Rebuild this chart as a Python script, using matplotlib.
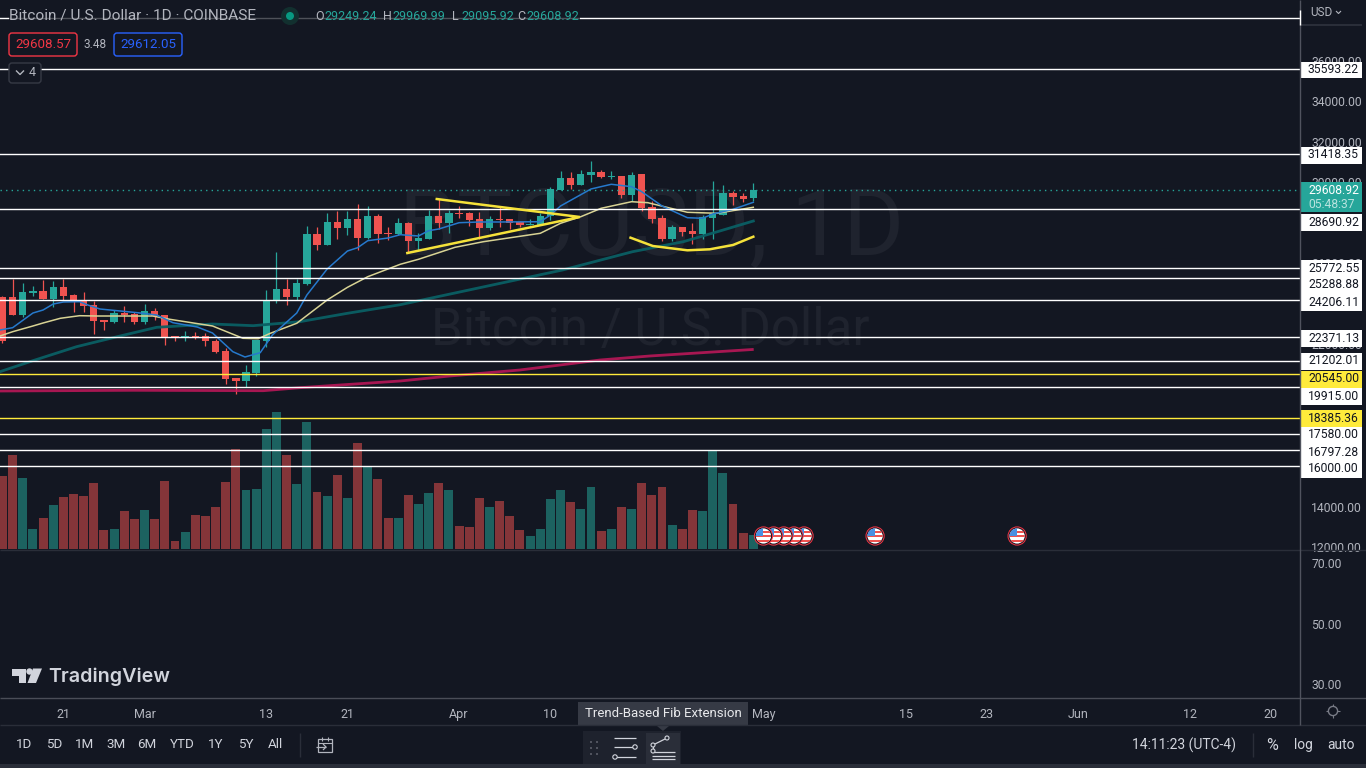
""" BTC/USD daily chart, dark terminal look """

import matplotlib
matplotlib.use('Agg')
import matplotlib.pyplot as plt
from matplotlib.patches import Circle, Polygon, Rectangle, FancyBboxPatch

plt.rcParams['font.family'] = ['Roboto', 'DejaVu Sans']

# candles (first bar is Feb 15)

opens = [24342, 24342, 23453, 24539, 24638, 24243, 24835, 24441, 24194, 23947,
         23207, 23108, 23552, 23503, 23108, 23651, 23453, 22417, 22367, 22417,
         22417, 22170, 21676, 20344, 20196, 20590, 22170, 24194, 24737, 24342,
         24984, 27452, 26909, 28044, 27748, 28192, 27254, 28340, 27501, 27452,
         27994, 27106, 27205, 28340, 27994, 28503, 28488, 28192, 27748, 28192,
         28192, 28044, 27911, 27896, 28340, 29623, 30216, 29870, 30364, 30512,
         30265, 30314, 29377, 30413, 28784, 28241, 27205, 27797, 27600, 27452,
         28241, 28389, 29475, 29327, 29249.24]
highs = [24391, 25230, 25033, 24885, 25181, 25132, 25230, 24490, 24589, 24144,
         23207, 23700, 23898, 23601, 23996, 23799, 23453, 22417, 22664, 22614,
         22565, 22269, 21824, 20344, 20985, 22219, 24687, 26563, 25230, 25230,
         27847, 27797, 28488, 28587, 28587, 28933, 28834, 28439, 27797, 28241,
         28044, 27501, 28636, 29179, 28636, 28834, 28537, 28537, 28340, 28784,
         28192, 28093, 28192, 28488, 29771, 30561, 30512, 30611, 31055, 30611,
         30561, 30314, 30512, 30413, 29080, 28389, 27896, 27797, 27994, 28389,
         30068, 29870, 29574, 29475, 29969.99]
lows = [22072, 23453, 23355, 24391, 24243, 23848, 24194, 23601, 23601, 22516,
        22713, 23058, 23108, 23009, 23009, 23207, 21973, 22170, 22170, 22269,
        21923, 21578, 20048, 19554, 19899, 20442, 21874, 24046, 23947, 24194,
        24934, 26662, 26909, 27205, 27402, 26662, 27205, 27007, 27155, 27402,
        26563, 26662, 27205, 27698, 27501, 28241, 27846, 27205, 27649, 27797,
        27698, 27797, 27896, 27896, 28143, 29623, 29673, 29870, 30018, 30216,
        30166, 29228, 29080, 28587, 27994, 27106, 27106, 27353, 26958, 27205,
        27205, 28389, 28883, 29031, 29095.92]
closes = [22170, 23453, 24589, 24638, 24243, 24835, 24391, 24194, 23898, 23157,
          23108, 23552, 23453, 23108, 23651, 23404, 22367, 22367, 22417, 22367,
          22170, 21627, 20294, 20196, 20640, 22219, 24144, 24737, 24342, 25033,
          27452, 26909, 28044, 27748, 28192, 27254, 28340, 27452, 27452, 27994,
          27106, 27254, 28340, 27994, 28488, 28454, 28143, 27748, 28192, 28143,
          27994, 27896, 27960, 28340, 29673, 30216, 29870, 30413, 30512, 30265,
          30314, 29377, 30364, 28735, 28192, 27205, 27797, 27550, 27452, 28291,
          28439, 29475, 29278, 29179, 29608.92]

# volume, relative units

volumes = [73, 94, 71, 20, 31, 44, 52, 55, 53, 66, 19, 20, 38, 30, 39, 30, 68, 8,
           17, 34, 33, 42, 67, 100, 59, 60, 120, 137, 94, 65, 127, 57, 53, 74, 51,
           106, 83, 70, 31, 31, 54, 45, 56, 66, 59, 23, 22, 51, 42, 48, 33, 19, 13,
           20, 50, 59, 47, 40, 62, 18, 20, 42, 40, 66, 54, 62, 24, 20, 39, 38, 99,
           76, 45, 16, 14]

# moving averages, read at the bends of each curve

fast_days = [-0.25, 1, 3, 4, 5, 6, 7.6, 8.4, 9.6, 11.3, 13.3, 15.2, 16.8, 19.2, 20.7,
             22.7, 23.9, 25.4, 26.6, 29, 30, 32, 34, 35, 36, 38, 39.2, 41, 42, 43, 45,
             47, 49, 53, 54, 55, 58, 60, 62, 63, 65, 67.5, 69, 70, 72, 74]
fast_ema = [22713, 22827, 23552, 23700, 23996, 24095, 24110, 23947, 23750, 23666,
            23567, 23453, 23073, 22861, 22565, 21642, 21380, 21593, 22466, 23552,
            24441, 25724, 26613, 26775, 27121, 27254, 27417, 27353, 27615, 27698,
            28009, 28044, 28044, 28059, 28389, 28834, 29673, 29905, 29787, 29540,
            28834, 28256, 28227, 28439, 28670, 29016]
mid_days = [-0.25, 1, 3, 4, 5.7, 7.6, 9.3, 14.8, 16.5, 20.7, 23.7, 25.2, 26.4, 29, 32,
            34, 36, 39.2, 41, 44.6, 47.4, 53, 55, 57, 59, 62, 63.6, 67.5, 70.4, 74]
mid_ema = [22417, 22629, 22911, 23059, 23291, 23419, 23404, 23404, 23241, 22911,
           22304, 22284, 22550, 23044, 24194, 24820, 25344, 25956, 26203, 26795,
           27072, 27486, 27980, 28306, 28720, 29046, 28997, 28523, 28474, 28770]
slow_days = [-0.25, 3, 7.3, 11.3, 15.2, 20.7, 24.7, 29.3, 34, 39.2, 55.2, 62.1, 67.1, 70.7, 74]
slow_ema = [20655, 21198, 21889, 22382, 22846, 23009, 22926, 23123, 23537, 23962,
            25675, 26578, 27072, 27600, 28093]
long_days = [-0.25, 12.9, 25.7, 29.3, 39.2, 44.1, 51, 58.9, 63.8, 73.9]
long_sma = [19702, 19737, 19717, 19865, 20196, 20443, 20739, 21232, 21430, 21750]

# hand drawn pattern

triangle_days = [42.8, 56.9, 39.9]
triangle_prices = [29179, 28291, 26513]
cup_days = [61.9, 64.1, 67.5, 69.7, 72, 74]
cup_prices = [27269, 26859, 26647, 26696, 26909, 27318]

# horizontal levels and where their tags sit on the scale (tags get pushed apart)

white_levels = [35593.22, 31418.35, 28690.92, 25772.55, 25288.88, 24206.11,
                22371.13, 21202.01, 19915.00, 17580.00, 16797.28, 16000.00]
white_tag_rows = [69.5, 155, 222, 268, 285, 302, 338, 361, 396, 435, 452, 469]
yellow_levels = [20545.00, 18385.36]
yellow_tag_rows = [379, 418]
top_level = 38113
last_close = closes[-1]

# axes ticks, only those the tags leave in sight

price_ticks = [12000, 14000, 22000, 26000, 30000, 32000, 34000, 36000]
rsi_ticks = [30, 50, 70]
date_ticks = [6, 14, 26, 34, 45, 54, 75, 89, 97, 106, 117, 125]
date_labels = ['21', 'Mar', '13', '21', 'Apr', '10', 'May', '15', '23', 'Jun', '12', '20']
event_days = [75, 76, 77, 78, 79, 86, 100]

# toolbar

range_labels = ['1D', '5D', '1M', '3M', '6M', 'YTD', '1Y', '5Y', 'All']
range_x = [24, 54, 85, 116, 147, 182, 216, 246, 275]

# colours

BG = '#131722'
UP = '#26a69a'
DOWN = '#ef5350'
UP_VOL = '#1c6260'
DOWN_VOL = '#843539'
TEXT = '#b2b5be'
GRID = '#2a2e39'
YELLOW = '#ffeb3b'

W, H = 1366, 768
PANE_R = 1300
VOL_B = 549
RSI_B = 697

fig = plt.figure(figsize=(W / 100, H / 100), dpi=100, facecolor=BG)


def pane(top, bottom, zorder):
    a = fig.add_axes([0, 1 - bottom / H, PANE_R / W, (bottom - top) / H], zorder=zorder)
    a.set_facecolor('none')
    for s in a.spines.values():
        s.set_visible(False)
    a.set_xlim(-0.246, 127.88)
    return a


# volume pane, behind the price pane

vol_ax = pane(0, VOL_B, 1)
vol_ax.set_ylim(0, VOL_B)
vol_ax.set_xticks([])
vol_ax.set_yticks([])
vol_colors = [UP_VOL if c >= o else DOWN_VOL for o, c in zip(opens, closes)]
vol_ax.bar(range(len(volumes)), volumes, width=0.88, color=vol_colors, linewidth=0)

# watermark

fig.text(652 / W, 1 - 230 / H, 'BTCUSD, 1D', color='#1f232e', fontsize=67, ha='center', va='center', zorder=0)
fig.text(650 / W, 1 - 331 / H, 'Bitcoin / U.S. Dollar', color='#1f232e', fontsize=36.7, ha='center', va='center', zorder=0)

# price pane

ax = pane(0, VOL_B, 2)
ax.set_ylim(11903, 39002)
ax.set_xticks([])
ax.yaxis.tick_right()
ax.set_yticks(price_ticks)
ax.set_yticklabels([f'{p:.2f}' for p in price_ticks])
ax.tick_params(axis='y', length=0, pad=8, labelsize=8.7, labelcolor=TEXT)

days = list(range(len(opens)))
candle_colors = [UP if c >= o else DOWN for o, c in zip(opens, closes)]
ax.vlines(days, lows, highs, color=candle_colors, linewidth=0.9, zorder=3)
ax.bar(days, [max(abs(c - o), 30) for o, c in zip(opens, closes)],
       bottom=[min(o, c) for o, c in zip(opens, closes)],
       width=0.72, color=candle_colors, linewidth=0, zorder=4)

ax.plot(long_days, long_sma, color='#c2185b', linewidth=2.0, alpha=0.85, zorder=5)
ax.plot(slow_days, slow_ema, color='#0a5f64', linewidth=2.0, alpha=0.95, zorder=5)
ax.plot(mid_days, mid_ema, color='#d8d394', linewidth=1.1, zorder=6)
ax.plot(fast_days, fast_ema, color='#2679cc', linewidth=1.1, zorder=6)

for level in white_levels + [top_level]:
    ax.axhline(level, color='white', linewidth=1.0, zorder=7)
for level in yellow_levels:
    ax.axhline(level, color=YELLOW, linewidth=1.0, zorder=7)
ax.axhline(last_close, color=UP, linewidth=1.0, linestyle=(0, (1, 3)), zorder=7)

ax.plot(triangle_days, triangle_prices, color='#f5e23a', linewidth=1.8, zorder=8, solid_joinstyle='miter')
ax.plot(cup_days, cup_prices, color='#f5e23a', linewidth=1.8, zorder=8)

# RSI pane with its line hidden, carries the time axis

rsi_ax = pane(VOL_B, RSI_B, 2)
rsi_ax.set_ylim(25.67, 74.67)
rsi_ax.yaxis.tick_right()
rsi_ax.set_yticks(rsi_ticks)
rsi_ax.set_yticklabels([f'{t:.2f}' for t in rsi_ticks])
rsi_ax.set_xticks(date_ticks)
rsi_ax.set_xticklabels(date_labels)
rsi_ax.tick_params(axis='y', length=0, pad=8, labelsize=8.7, labelcolor=TEXT)
rsi_ax.tick_params(axis='x', length=0, pad=8, labelsize=9, labelcolor=TEXT)

# everything around the chart, in screen pixels

ui = fig.add_axes([0, 0, 1, 1], zorder=5)
ui.set_xlim(0, W)
ui.set_ylim(H, 0)
ui.axis('off')


def label(x, y, s, color=TEXT, size=8.7, ha='left', **kw):
    ui.text(x, y, s, color=color, fontsize=size, ha=ha, va='center', **kw)


def rect(x0, y0, x1, y1, color, **kw):
    ui.add_patch(Rectangle((x0, y0), x1 - x0, y1 - y0, facecolor=color, linewidth=0, **kw))


def line(xs, ys, color=TEXT, lw=1.0, **kw):
    ui.plot(xs, ys, color=color, linewidth=lw, solid_capstyle='butt', **kw)


def box(x0, y0, x1, y1, edge, face=BG):
    ui.add_patch(FancyBboxPatch((x0 + 2, y0 + 2), x1 - x0 - 4, y1 - y0 - 4, boxstyle='round,pad=2,rounding_size=3',
                                edgecolor=edge, facecolor=face, linewidth=1.0))


# separators and scale column

line([0, W], [VOL_B + 0.5, VOL_B + 0.5], GRID, 1.0)
line([0, W], [698, 698], '#4a4d57', 1.0)
line([0, W], [725, 725], GRID, 1.0)
line([PANE_R, PANE_R], [0, 725], '#50535e', 1.0)
line([PANE_R, PANE_R], [10, 25], 'white', 1.0)
rect(0, 764, W, 768, GRID)
rect(PANE_R + 1, 24, 1362, 26, GRID)
label(1310, 12, 'USD', size=8.5)
line([1336, 1338.5, 1341], [11, 13.5, 11], TEXT, 0.8)

# level tags

for level, row in zip(white_levels, white_tag_rows):
    rect(PANE_R + 1, row - 8, 1362, row + 8.5, 'white')
    label(1308, row, f'{level:.2f}', '#131722')
for level, row in zip(yellow_levels, yellow_tag_rows):
    rect(PANE_R + 1, row - 8, 1362, row + 8.5, YELLOW)
    label(1308, row, f'{level:.2f}', '#131722')

rect(PANE_R + 1, 182, 1362, 212, UP)
label(1308, 190.5, f'{last_close:.2f}', 'white')
label(1308, 204.5, '05:48:37', '#b9e3df')

# legend block, its backing dims the top level line

rect(9, 8, 580, 26, BG, alpha=0.75)
label(9, 16, 'Bitcoin / U.S. Dollar · 1D · COINBASE', size=11.1)
ui.add_patch(Circle((290, 16), 9, facecolor='#12302f', linewidth=0))
ui.add_patch(Circle((290, 16), 4, facecolor='#089981', linewidth=0))
ohlc_names = ['O', 'H', 'L', 'C']
ohlc_values = [opens[-1], highs[-1], lows[-1], closes[-1]]
ohlc_x = [315, 383, 452, 517]
for n, v, x in zip(ohlc_names, ohlc_values, ohlc_x):
    label(x, 17, n, size=9)
    label(x + 9, 17, f'{v:.2f}', UP, size=9)

box(9, 33, 77, 56, '#f23645')
label(43, 45, '29608.57', '#f23645', size=9.6, ha='center')
label(95, 45, '3.48', TEXT, size=8.5, ha='center')
box(114, 33, 182, 56, '#2962ff')
label(148, 45, '29612.05', '#2962ff', size=9.6, ha='center')
box(9, 63, 41, 83, '#363a45')
line([16, 20, 24], [70.5, 74.5, 70.5], TEXT, 1.0)
label(32, 73, '4', TEXT, size=9, ha='center')

# logo

ui.add_patch(Polygon([(12, 668.5), (26, 668.5), (26, 683), (19, 683), (19, 675.5), (12, 675.5)], facecolor='#d1d4dc', linewidth=0))
ui.add_patch(Circle((29.5, 671.5), 3.2, facecolor='#d1d4dc', linewidth=0))
ui.add_patch(Polygon([(33, 668.5), (42, 668.5), (36, 683), (27.5, 683)], facecolor='#d1d4dc', linewidth=0))
label(48, 677, 'TradingView', '#d1d4dc', size=14.2, fontfamily='Inter', fontweight='semibold')

# event flags, first one on top

for day in reversed(event_days):
    fx = ax.transData.transform((day, 0))[0]
    fy = 536
    ui.add_patch(Circle((fx, fy), 9.6, facecolor='#f23645', linewidth=0))
    ui.add_patch(Circle((fx, fy), 8.6, facecolor='#131722', linewidth=0))
    clip = Circle((fx, fy), 7.6, transform=ui.transData)
    ui.add_patch(Circle((fx, fy), 7.6, facecolor='white', linewidth=0))
    for dy in (-5.5, -1, 3.5):
        r = Rectangle((fx - 8, fy + dy), 16, 2.4, facecolor='#ef5350', linewidth=0)
        ui.add_patch(r)
        r.set_clip_path(clip)
    r = Rectangle((fx - 8, fy - 8), 8, 8, facecolor='#4a90e2', linewidth=0)
    ui.add_patch(r)
    r.set_clip_path(clip)

# sun icon on the time axis

line([1333, 1333], [704, 718], '#787b86', 0.8)
line([1326, 1340], [711, 711], '#787b86', 0.8)
ui.add_patch(Circle((1333, 711), 4.6, facecolor=BG, edgecolor='#787b86', linewidth=1.0, zorder=3))

# bottom toolbar

for s, x in zip(range_labels, range_x):
    label(x, 745, s, '#d1d4dc', size=9.6, ha='center')
line([300, 300], [733, 757], GRID, 1.0)
ui.add_patch(Rectangle((318, 739), 14, 13, facecolor='none', edgecolor=TEXT, linewidth=0.9))
line([318, 332], [743, 743], TEXT, 0.8)
line([322, 322], [737, 741], TEXT, 0.8)
line([328, 328], [737, 741], TEXT, 0.8)
line([316, 326], [747, 747], TEXT, 0.9, zorder=3)
line([323, 326, 323], [744, 747, 750], TEXT, 0.9, zorder=3)

label(1184, 745, '14:11:23 (UTC-4)', '#d1d4dc', size=10, ha='center')
line([1253, 1253], [733, 757], GRID, 1.0)
label(1272, 745, '%', '#d1d4dc', size=11.5, ha='center')
label(1303, 745, 'log', '#d1d4dc', size=10, ha='center')
label(1341, 745, 'auto', '#d1d4dc', size=10, ha='center')

# tooltip and drawing favourites

rect(578, 702, 748, 726, '#363a45')
label(663, 713.5, 'Trend-Based Fib Extension', '#e8e9ec', size=9.5, ha='center')
rect(583, 731, 681, 764, '#1e222d')
rect(646, 733, 680, 764, '#2a2e39')
ui.add_patch(Polygon([(657, 726), (669, 726), (663, 731)], facecolor='#363a45', linewidth=0))
for dot_x in (590, 596):
    for dot_y in (741, 747, 753):
        rect(dot_x, dot_y, dot_x + 2, dot_y + 2, '#50535e')
for y0 in (738, 747, 757):
    line([614, 636], [y0, y0], '#d1d4dc', 0.9)
ui.add_patch(Circle((635, 747), 2.2, facecolor='#1e222d', edgecolor='#d1d4dc', linewidth=0.8, zorder=3))
ui.add_patch(Circle((615, 757), 2.2, facecolor='#1e222d', edgecolor='#d1d4dc', linewidth=0.8, zorder=3))
for y0 in (752, 755.5, 759):
    line([652, 675], [y0, y0], '#d1d4dc', 0.9)
line([653, 667], [745, 738], '#d1d4dc', 0.9)
line([653, 653], [745, 751], '#d1d4dc', 0.9)
for cx, cy in ((653, 745), (667, 738), (653, 751)):
    ui.add_patch(Circle((cx, cy), 2.0, facecolor='#2a2e39', edgecolor='#d1d4dc', linewidth=0.8, zorder=3))

fig.savefig('out.png', dpi=100, facecolor=BG)
